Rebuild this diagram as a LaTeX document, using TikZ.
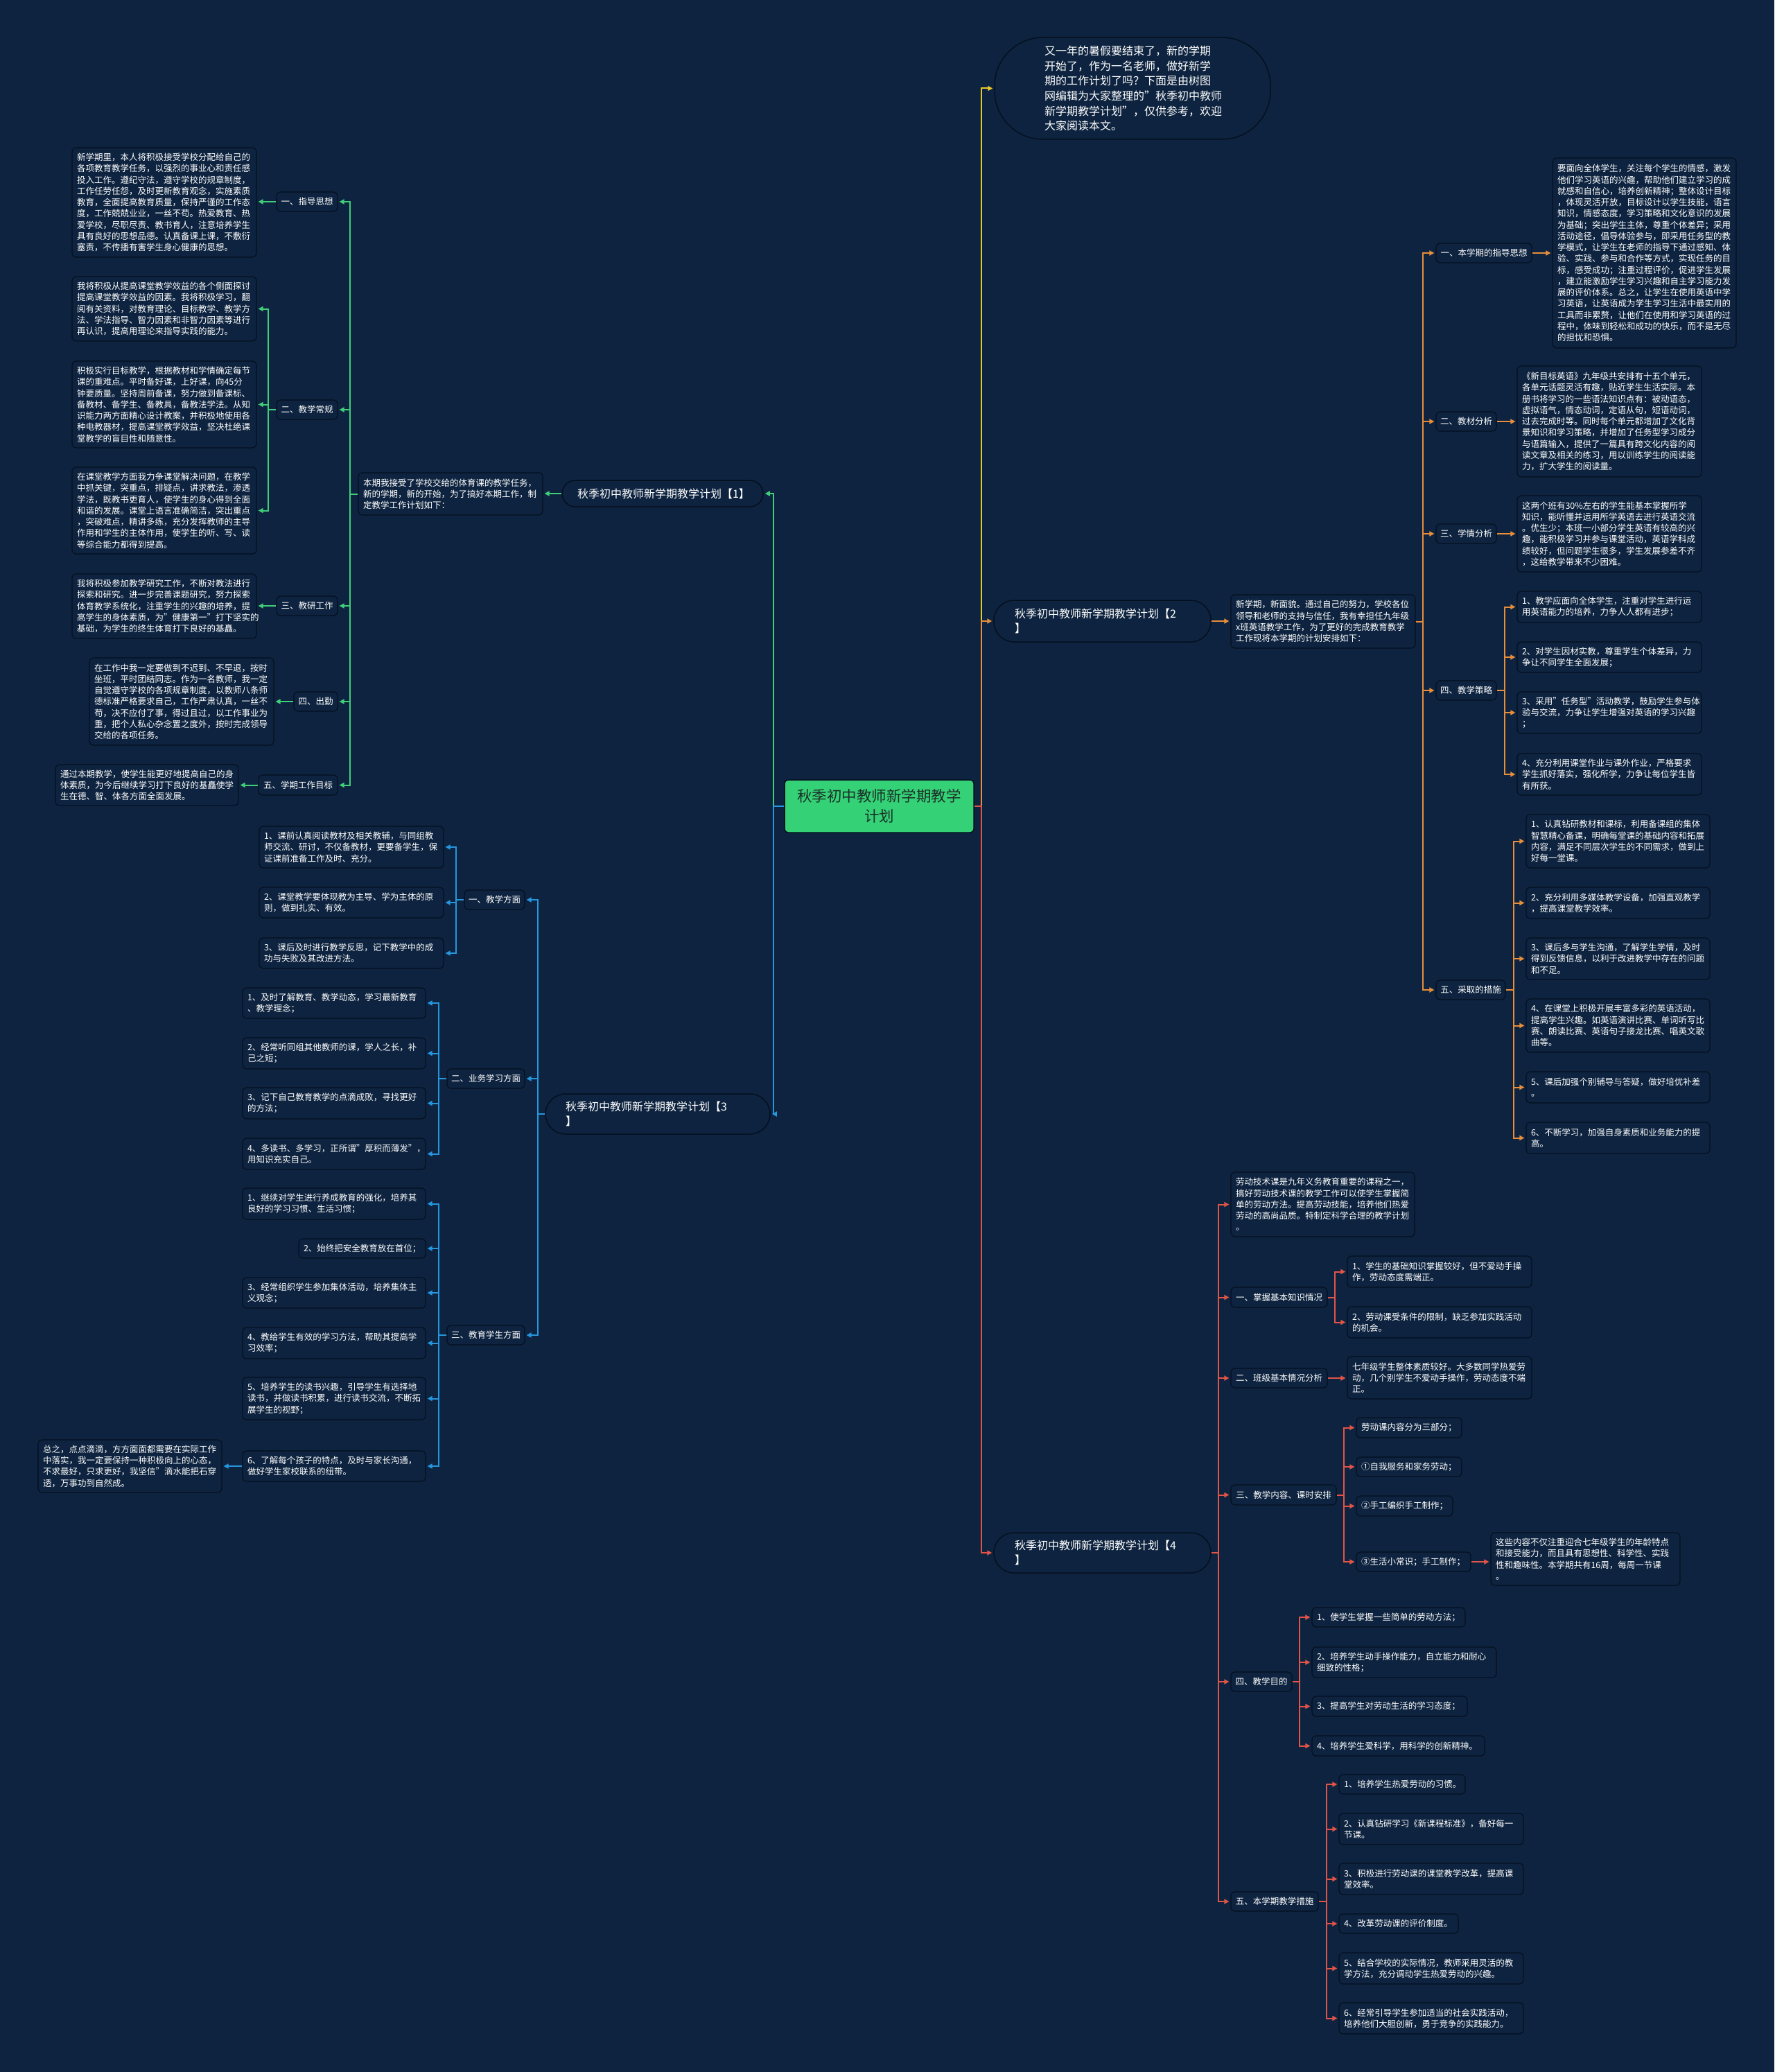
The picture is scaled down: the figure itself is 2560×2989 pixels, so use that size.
\documentclass[tikz,border=0pt]{standalone}
\usepackage{fontspec}
\setmainfont{Noto Sans CJK SC}
\usetikzlibrary{arrows.meta}
\definecolor{bgc}{RGB}{13,35,63}
\definecolor{bdc}{RGB}{5,16,32}
\definecolor{cgreen}{RGB}{64,206,120}
\definecolor{cgreenfill}{RGB}{52,209,118}
\definecolor{cblue}{RGB}{38,150,222}
\definecolor{corange}{RGB}{232,142,58}
\definecolor{cred}{RGB}{226,84,72}
\definecolor{cyellow}{RGB}{234,200,40}
\definecolor{ctextdark}{RGB}{28,48,40}
\newcommand\lf{\fontsize{12.5}{16.25}\selectfont}
\newcommand\tf{\fontsize{16}{21.7}\selectfont}
\newcommand\cf{\fontsize{21.5}{28.7}\selectfont}
% name, x1, y1, x2, y2, pad, style, text
\newcommand\MBox[8]{%
 \pgfmathsetmacro\mbw{#4-#2}%
 \pgfmathsetmacro\mbh{#5-#3}%
 \pgfmathsetmacro\mbtw{#4-#2-2*#6}%
 \pgfmathsetmacro\mbcx{(#2+#4)/2}%
 \pgfmathsetmacro\mbcy{(#3+#5)/2}%
 \node[#7, inner xsep=#6pt, text width=\mbtw pt, minimum width=\mbw pt, minimum height=\mbh pt] (#1) at (\mbcx,\mbcy) {#8};}
\begin{document}
\begin{tikzpicture}[x=1pt,y=-1pt,
 leaf/.style={draw=bdc, fill=bgc, line width=1.2pt, rounded corners=6pt, text=white, font=\lf, align=left, inner ysep=0pt},
 lbl/.style={leaf, align=center},
 pill/.style={draw=bdc, fill=bgc, line width=1.5pt, rounded corners=29pt, text=white, font=\tf, align=left, inner ysep=0pt},
 ln/.style={line width=2pt, -{Triangle[length=7pt,width=7pt]}, shorten >=2pt}]
\fill[bgc] (0,0) rectangle (2560,2989);
\useasboundingbox (0,0) rectangle (2560,2989);

% ---------- root ----------
\MBox{root}{1132}{1125}{1405}{1201}{8}{draw=bdc, fill=cgreenfill, line width=1.5pt, rounded corners=5pt, text=ctextdark, font=\cf, align=center, inner ysep=0pt}{秋季初中教师新学期教学\\计划}

% ---------- intro ----------
\MBox{intro}{1435}{54}{1833}{201}{72}{pill, rounded corners=70pt}{又一年的暑假要结束了，新的学期\\开始了，作为一名老师，做好新学\\期的工作计划了吗？下面是由树图\\网编辑为大家整理的"秋季初中教师\\新学期教学计划"，仅供参考，欢迎\\大家阅读本文。}

% ---------- section 1 ----------
\MBox{s1t}{811}{693}{1101}{731}{22}{pill, rounded corners=19pt}{秋季初中教师新学期教学计划【1】}
\MBox{s1i}{517}{682}{783}{743}{7}{leaf}{本期我接受了学校交给的体育课的教学任务，\\新的学期，新的开始，为了搞好本期工作，制\\定教学工作计划如下：}
\MBox{s1a}{399}{277}{487}{305}{5}{lbl}{一、指导思想}
\MBox{s1al}{104}{213}{370}{371}{7}{leaf}{新学期里，本人将积极接受学校分配给自己的\\各项教育教学任务，以强烈的事业心和责任感\\投入工作。遵纪守法，遵守学校的规章制度，\\工作任劳任怨，及时更新教育观念，实施素质\\教育，全面提高教育质量，保持严谨的工作态\\度，工作兢兢业业，一丝不苟。热爱教育、热\\爱学校，尽职尽责、教书育人，注意培养学生\\具有良好的思想品德。认真备课上课，不敷衍\\塞责，不传播有害学生身心健康的思想。}
\MBox{s1b}{399}{577}{487}{605}{5}{lbl}{二、教学常规}
\MBox{s1b1}{104}{399}{370}{492}{7}{leaf}{我将积极从提高课堂教学效益的各个侧面探讨\\提高课堂教学效益的因素。我将积极学习，翻\\阅有关资料，对教育理论、目标教学、教学方\\法、学法指导、智力因素和非智力因素等进行\\再认识，提高用理论来指导实践的能力。}
\MBox{s1b2}{104}{521}{370}{646}{7}{leaf}{积极实行目标教学，根据教材和学情确定每节\\课的重难点。平时备好课，上好课，向45分\\钟要质量。坚持周前备课，努力做到备课标、\\备教材、备学生、备教具，备教法学法。从知\\识能力两方面精心设计教案，并积极地使用各\\种电教器材，提高课堂教学效益，坚决杜绝课\\堂教学的盲目性和随意性。}
\MBox{s1b3}{104}{674}{370}{799}{7}{leaf}{在课堂教学方面我力争课堂解决问题，在教学\\中抓关键，突重点，排疑点，讲求教法，渗透\\学法，既教书更育人，使学生的身心得到全面\\和谐的发展。课堂上语言准确简洁，突出重点\\，突破难点，精讲多练，充分发挥教师的主导\\作用和学生的主体作用，使学生的听、写、读\\等综合能力都得到提高。}
\MBox{s1c}{399}{860}{487}{888}{5}{lbl}{三、教研工作}
\MBox{s1cl}{104}{828}{370}{921}{7}{leaf}{我将积极参加教学研究工作，不断对教法进行\\探索和研究。进一步完善课题研究，努力探索\\体育教学系统化，注重学生的兴趣的培养，提\\高学生的身体素质，为"健康第一"打下坚实的\\基础，为学生的终生体育打下良好的基矗。}
\MBox{s1d}{424}{998}{487}{1026}{5}{lbl}{四、出勤}
\MBox{s1dl}{129}{949}{395}{1075}{7}{leaf}{在工作中我一定要做到不迟到、不早退，按时\\坐班，平时团结同志。作为一名教师，我一定\\自觉遵守学校的各项规章制度，以教师八条师\\德标准严格要求自己，工作严肃认真，一丝不\\苟，决不应付了事，得过且过，以工作事业为\\重，把个人私心杂念置之度外，按时完成领导\\交给的各项任务。}
\MBox{s1e}{373}{1118}{487}{1147}{5}{lbl}{五、学期工作目标}
\MBox{s1el}{80}{1103}{344}{1162}{7}{leaf}{通过本期教学，使学生能更好地提高自己的身\\体素质，为今后继续学习打下良好的基矗使学\\生在德、智、体各方面全面发展。}

% ---------- section 3 ----------
\MBox{s3t}{787}{1578}{1111}{1636}{29}{pill}{秋季初中教师新学期教学计划【3\\】}
\MBox{s3a}{670}{1284}{757}{1312}{5}{lbl}{一、教学方面}
\MBox{s3a1}{374}{1192}{640}{1252}{7}{leaf}{1、课前认真阅读教材及相关教辅，与同组教\\师交流、研讨，不仅备教材，更要备学生，保\\证课前准备工作及时、充分。}
\MBox{s3a2}{374}{1280}{640}{1324}{7}{leaf}{2、课堂教学要体现教为主导、学为主体的原\\则，做到扎实、有效。}
\MBox{s3a3}{374}{1353}{640}{1397}{7}{leaf}{3、课后及时进行教学反思，记下教学中的成\\功与失败及其改进方法。}
\MBox{s3b}{645}{1542}{757}{1570}{5}{lbl}{二、业务学习方面}
\MBox{s3b1}{350}{1425}{614}{1469}{7}{leaf}{1、及时了解教育、教学动态，学习最新教育\\、教学理念；}
\MBox{s3b2}{350}{1497}{614}{1542}{7}{leaf}{2、经常听同组其他教师的课，学人之长，补\\己之短；}
\MBox{s3b3}{350}{1569}{614}{1614}{7}{leaf}{3、记下自己教育教学的点滴成败，寻找更好\\的方法；}
\MBox{s3b4}{350}{1642}{614}{1687}{7}{leaf}{4、多读书、多学习，正所谓"厚积而薄发"，\\用知识充实自己。}
\MBox{s3c}{645}{1912}{757}{1940}{5}{lbl}{三、教育学生方面}
\MBox{s3c1}{350}{1714}{614}{1759}{7}{leaf}{1、继续对学生进行养成教育的强化，培养其\\良好的学习习惯、生活习惯；}
\MBox{s3c2}{431}{1787}{614}{1815}{7}{leaf}{2、始终把安全教育放在首位；}
\MBox{s3c3}{350}{1843}{614}{1887}{7}{leaf}{3、经常组织学生参加集体活动，培养集体主\\义观念；}
\MBox{s3c4}{350}{1915}{614}{1960}{7}{leaf}{4、教给学生有效的学习方法，帮助其提高学\\习效率；}
\MBox{s3c5}{350}{1987}{614}{2048}{7}{leaf}{5、培养学生的读书兴趣，引导学生有选择地\\读书，并做读书积累，进行读书交流，不断拓\\展学生的视野；}
\MBox{s3c6}{350}{2093}{614}{2137}{7}{leaf}{6、了解每个孩子的特点，及时与家长沟通，\\做好学生家校联系的纽带。}
\MBox{s3z}{55}{2077}{320}{2153}{7}{leaf}{总之，点点滴滴，方方面面都需要在实际工作\\中落实，我一定要保持一种积极向上的心态，\\不求最好，只求更好，我坚信"滴水能把石穿\\透，万事功到自然成。}

% ---------- section 2 ----------
\MBox{s2t}{1434}{866}{1747}{926}{30}{pill}{秋季初中教师新学期教学计划【2\\】}
\MBox{s2i}{1776}{858}{2042}{935}{7}{leaf}{新学期，新面貌。通过自己的努力，学校各位\\领导和老师的支持与信任，我有幸担任九年级\\x班英语教学工作，为了更好的完成教育教学\\工作现将本学期的计划安排如下：}
\MBox{s2a}{2072}{351}{2210}{379}{5}{lbl}{一、本学期的指导思想}
\MBox{s2al}{2240}{228}{2505}{502}{7}{leaf}{要面向全体学生，关注每个学生的情感，激发\\他们学习英语的兴趣，帮助他们建立学习的成\\就感和自信心，培养创新精神；整体设计目标\\，体现灵活开放，目标设计以学生技能，语言\\知识，情感态度，学习策略和文化意识的发展\\为基础；突出学生主体，尊重个体差异；采用\\活动途径，倡导体验参与，即采用任务型的教\\学模式，让学生在老师的指导下通过感知、体\\验、实践、参与和合作等方式，实现任务的目\\标，感受成功；注重过程评价，促进学生发展\\，建立能激励学生学习兴趣和自主学习能力发\\展的评价体系。总之，让学生在使用英语中学\\习英语，让英语成为学生学习生活中最实用的\\工具而非累赘，让他们在使用和学习英语的过\\程中，体味到轻松和成功的快乐，而不是无尽\\的担忧和恐惧。}
\MBox{s2b}{2072}{594}{2159}{622}{5}{lbl}{二、教材分析}
\MBox{s2bl}{2189}{528}{2455}{688}{7}{leaf}{《新目标英语》九年级共安排有十五个单元，\\各单元话题灵活有趣，贴近学生生活实际。本\\册书将学习的一些语法知识点有：被动语态，\\虚拟语气，情态动词，定语从句，短语动词，\\过去完成时等。同时每个单元都增加了文化背\\景知识和学习策略，并增加了任务型学习成分\\与语篇输入，提供了一篇具有跨文化内容的阅\\读文章及相关的练习，用以训练学生的阅读能\\力，扩大学生的阅读量。}
\MBox{s2c}{2072}{756}{2159}{784}{5}{lbl}{三、学情分析}
\MBox{s2cl}{2189}{715}{2455}{825}{7}{leaf}{这两个班有30\%左右的学生能基本掌握所学\\知识，能听懂并运用所学英语去进行英语交流\\。优生少；本班一小部分学生英语有较高的兴\\趣，能积极学习并参与课堂活动，英语学科成\\绩较好，但问题学生很多，学生发展参差不齐\\，这给教学带来不少困难。}
\MBox{s2d}{2072}{982}{2159}{1010}{5}{lbl}{四、教学策略}
\MBox{s2d1}{2189}{853}{2455}{898}{7}{leaf}{1、教学应面向全体学生，注重对学生进行运\\用英语能力的培养，力争人人都有进步；}
\MBox{s2d2}{2189}{926}{2455}{970}{7}{leaf}{2、对学生因材实教，尊重学生个体差异，力\\争让不同学生全面发展；}
\MBox{s2d3}{2189}{998}{2455}{1058}{7}{leaf}{3、采用"任务型"活动教学，鼓励学生参与体\\验与交流，力争让学生增强对英语的学习兴趣\\；}
\MBox{s2d4}{2189}{1087}{2455}{1147}{7}{leaf}{4、充分利用课堂作业与课外作业，严格要求\\学生抓好落实，强化所学，力争让每位学生皆\\有所获。}
\MBox{s2e}{2072}{1414}{2172}{1442}{5}{lbl}{五、采取的措施}
\MBox{s2e1}{2202}{1175}{2467}{1252}{7}{leaf}{1、认真钻研教材和课标，利用备课组的集体\\智慧精心备课，明确每堂课的基础内容和拓展\\内容，满足不同层次学生的不同需求，做到上\\好每一堂课。}
\MBox{s2e2}{2202}{1280}{2467}{1325}{7}{leaf}{2、充分利用多媒体教学设备，加强直观教学\\，提高课堂教学效率。}
\MBox{s2e3}{2202}{1353}{2467}{1413}{7}{leaf}{3、课后多与学生沟通，了解学生学情，及时\\得到反馈信息，以利于改进教学中存在的问题\\和不足。}
\MBox{s2e4}{2202}{1441}{2467}{1518}{7}{leaf}{4、在课堂上积极开展丰富多彩的英语活动，\\提高学生兴趣。如英语演讲比赛、单词听写比\\赛、朗读比赛、英语句子接龙比赛、唱英文歌\\曲等。}
\MBox{s2e5}{2202}{1546}{2467}{1591}{7}{leaf}{5、课后加强个别辅导与答疑，做好培优补差\\。}
\MBox{s2e6}{2202}{1619}{2467}{1664}{7}{leaf}{6、不断学习，加强自身素质和业务能力的提\\高。}

% ---------- section 4 ----------
\MBox{s4t}{1434}{2211}{1747}{2269}{30}{pill}{秋季初中教师新学期教学计划【4\\】}
\MBox{s4l}{1776}{1691}{2041}{1784}{7}{leaf}{劳动技术课是九年义务教育重要的课程之一，\\搞好劳动技术课的教学工作可以使学生掌握简\\单的劳动方法。提高劳动技能，培养他们热爱\\劳动的高尚品质。特制定科学合理的教学计划\\。}
\MBox{s4a}{1776}{1857}{1915}{1886}{5}{lbl}{一、掌握基本知识情况}
\MBox{s4a1}{1944}{1812}{2210}{1857}{7}{leaf}{1、学生的基础知识掌握较好，但不爱动手操\\作，劳动态度需端正。}
\MBox{s4a2}{1944}{1885}{2210}{1930}{7}{leaf}{2、劳动课受条件的限制，缺乏参加实践活动\\的机会。}
\MBox{s4b}{1776}{1974}{1915}{2002}{5}{lbl}{二、班级基本情况分析}
\MBox{s4bl}{1944}{1957}{2210}{2018}{7}{leaf}{七年级学生整体素质较好。大多数同学热爱劳\\动，几个别学生不爱动手操作，劳动态度不端\\正。}
\MBox{s4c}{1776}{2142}{1928}{2171}{5}{lbl}{三、教学内容、课时安排}
\MBox{s4c1}{1957}{2045}{2109}{2074}{7}{leaf}{劳动课内容分为三部分；}
\MBox{s4c2}{1957}{2102}{2109}{2130}{7}{leaf}{①自我服务和家务劳动；}
\MBox{s4c3}{1957}{2158}{2096}{2187}{7}{leaf}{②手工编织手工制作；}
\MBox{s4c4}{1957}{2239}{2122}{2267}{7}{leaf}{③生活小常识；手工制作；}
\MBox{s4cz}{2151}{2211}{2424}{2287}{7}{leaf}{这些内容不仅注重迎合七年级学生的年龄特点\\和接受能力，而且具有思想性、科学性、实践\\性和趣味性。本学期共有16周，每周一节课\\。}
\MBox{s4d}{1776}{2412}{1864}{2440}{5}{lbl}{四、教学目的}
\MBox{s4d1}{1893}{2319}{2114}{2347}{7}{leaf}{1、使学生掌握一些简单的劳动方法；}
\MBox{s4d2}{1893}{2376}{2159}{2420}{7}{leaf}{2、培养学生动手操作能力，自立能力和耐心\\细致的性格；}
\MBox{s4d3}{1893}{2447}{2117}{2476}{7}{leaf}{3、提高学生对劳动生活的学习态度；}
\MBox{s4d4}{1893}{2504}{2142}{2533}{7}{leaf}{4、培养学生爱科学，用科学的创新精神。}
\MBox{s4e}{1776}{2729}{1902}{2757}{5}{lbl}{五、本学期教学措施}
\MBox{s4e1}{1932}{2560}{2114}{2588}{7}{leaf}{1、培养学生热爱劳动的习惯。}
\MBox{s4e2}{1932}{2616}{2198}{2661}{7}{leaf}{2、认真钻研学习《新课程标准》，备好每一\\节课。}
\MBox{s4e3}{1932}{2688}{2198}{2733}{7}{leaf}{3、积极进行劳动课的课堂教学改革，提高课\\堂效率。}
\MBox{s4e4}{1932}{2761}{2104}{2789}{7}{leaf}{4、改革劳动课的评价制度。}
\MBox{s4e5}{1932}{2817}{2198}{2862}{7}{leaf}{5、结合学校的实际情况，教师采用灵活的教\\学方法，充分调动学生热爱劳动的兴趣。}
\MBox{s4e6}{1932}{2889}{2198}{2934}{7}{leaf}{6、经常引导学生参加适当的社会实践活动，\\培养他们大胆创新，勇于竞争的实践能力。}

% ---------- connectors ----------
% green (section 1)
\draw[ln,cgreen] (root.west) -- ++(-15,0) |- (s1t.east);
\draw[ln,cgreen] (s1t.west) -- (s1t.west -| s1i.east);
\foreach \c in {s1a,s1b,s1c,s1d,s1e} \draw[ln,cgreen] (s1i.west) -- ++(-11,0) |- (\c.east);
\draw[ln,cgreen] (s1a.west) -- (s1a.west -| s1al.east);
\foreach \c in {s1b1,s1b2,s1b3} \draw[ln,cgreen] (s1b.west) -- ++(-11,0) |- (\c.east);
\draw[ln,cgreen] (s1c.west) -- (s1c.west -| s1cl.east);
\draw[ln,cgreen] (s1d.west) -- (s1d.west -| s1dl.east);
\draw[ln,cgreen] (s1e.west) -- (s1e.west -| s1el.east);
% blue (section 3)
\draw[ln,cblue] (root.west) -- ++(-15,0) |- (s3t.east);
\foreach \c in {s3a,s3b,s3c} \draw[ln,cblue] (s3t.west) -- ++(-10,0) |- (\c.east);
\foreach \c in {s3a1,s3a2,s3a3} \draw[ln,cblue] (s3a.west) -- ++(-11,0) |- (\c.east);
\foreach \c in {s3b1,s3b2,s3b3,s3b4} \draw[ln,cblue] (s3b.west) -- ++(-11,0) |- (\c.east);
\foreach \c in {s3c1,s3c2,s3c3,s3c4,s3c5,s3c6} \draw[ln,cblue] (s3c.west) -- ++(-11,0) |- (\c.east);
\draw[ln,cblue] (s3c6.west) -- (s3c6.west -| s3z.east);
% yellow (intro)
\draw[ln,cyellow] (root.east) -- ++(10,0) |- (intro.west);
% orange (section 2)
\draw[ln,corange] (root.east) -- ++(10,0) |- (s2t.west);
\draw[ln,corange] (s2t.east) -- (s2t.east -| s2i.west);
\foreach \c in {s2a,s2b,s2c,s2d,s2e} \draw[ln,corange] (s2i.east) -- ++(10,0) |- (\c.west);
\draw[ln,corange] (s2a.east) -- (s2a.east -| s2al.west);
\draw[ln,corange] (s2b.east) -- (s2b.east -| s2bl.west);
\draw[ln,corange] (s2c.east) -- (s2c.east -| s2cl.west);
\foreach \c in {s2d1,s2d2,s2d3,s2d4} \draw[ln,corange] (s2d.east) -- ++(11,0) |- (\c.west);
\foreach \c in {s2e1,s2e2,s2e3,s2e4,s2e5,s2e6} \draw[ln,corange] (s2e.east) -- ++(11,0) |- (\c.west);
% red (section 4)
\draw[ln,cred] (root.east) -- ++(10,0) |- (s4t.west);
\foreach \c in {s4l,s4a,s4b,s4c,s4d,s4e} \draw[ln,cred] (s4t.east) -- ++(10,0) |- (\c.west);
\foreach \c in {s4a1,s4a2} \draw[ln,cred] (s4a.east) -- ++(10,0) |- (\c.west);
\draw[ln,cred] (s4b.east) -- (s4b.east -| s4bl.west);
\foreach \c in {s4c1,s4c2,s4c3,s4c4} \draw[ln,cred] (s4c.east) -- ++(10,0) |- (\c.west);
\draw[ln,cred] (s4c4.east) -- (s4c4.east -| s4cz.west);
\foreach \c in {s4d1,s4d2,s4d3,s4d4} \draw[ln,cred] (s4d.east) -- ++(10,0) |- (\c.west);
\foreach \c in {s4e1,s4e2,s4e3,s4e4,s4e5,s4e6} \draw[ln,cred] (s4e.east) -- ++(11,0) |- (\c.west);
\end{tikzpicture}
\end{document}
